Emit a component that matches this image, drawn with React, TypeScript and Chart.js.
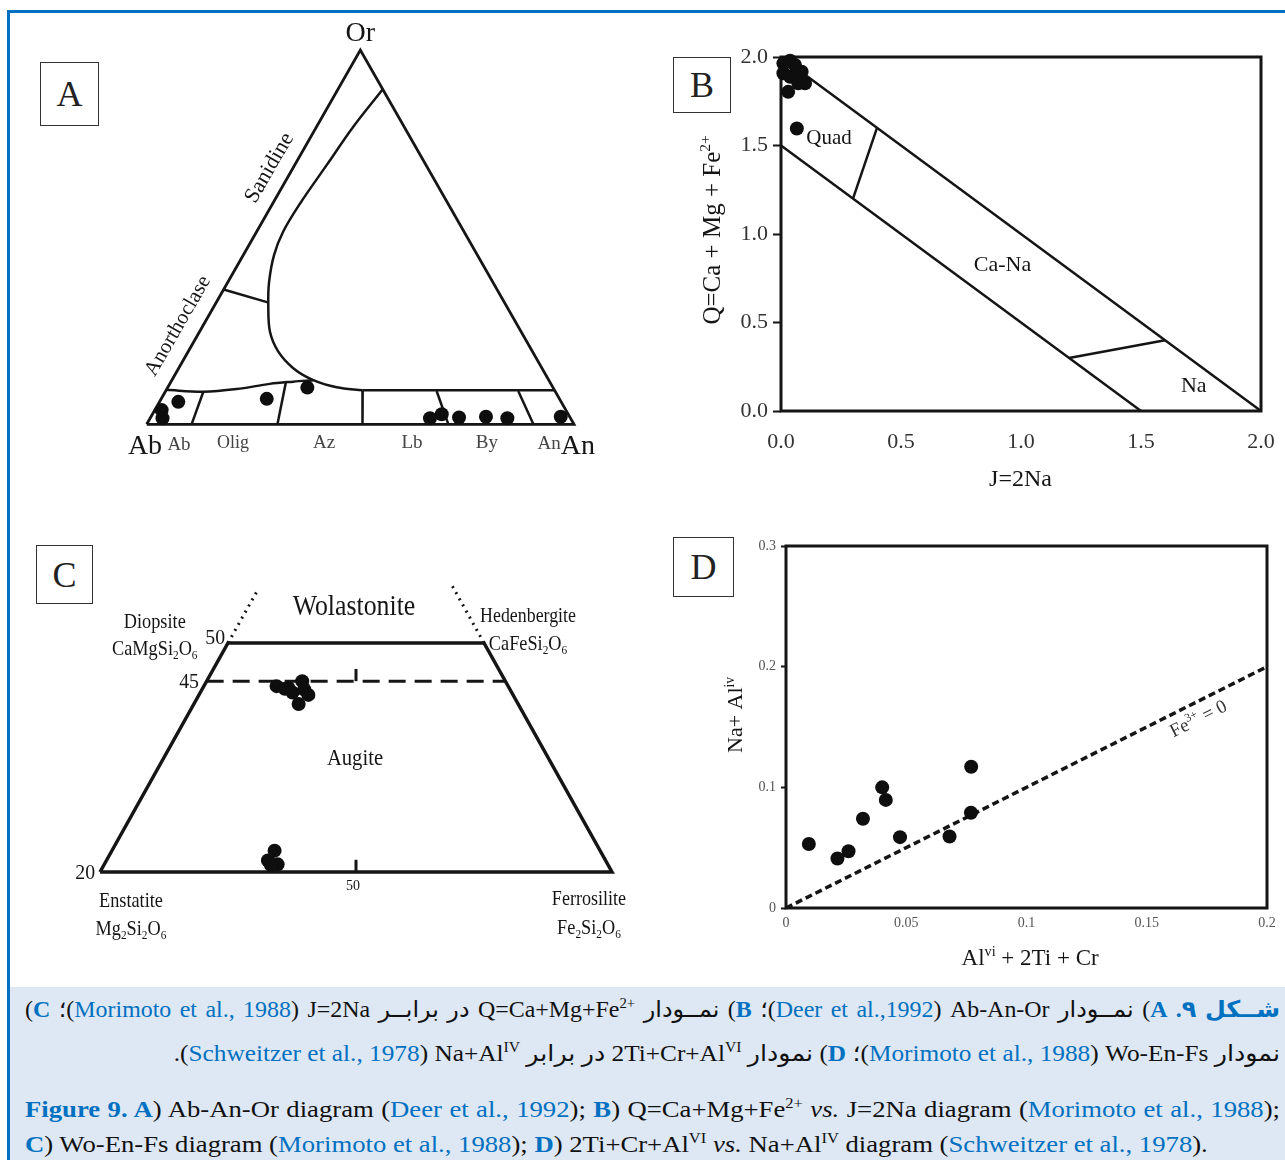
import React, { useEffect, useRef } from "react";
import { Chart, registerables } from "chart.js";

Chart.register(...registerables);

const INK = "#151515";
const SERIF = '"Liberation Serif", "Times New Roman", serif';
const BLUE = "#0070c0";

// ================= Panel A: Ab–An–Or ternary, values as [An %, Or %] =================
const A_SAMPLE_AN = [1.6, 2.9, 4.4, 24.7, 32.7, 65.5, 67.7, 72.2, 78.4, 83.6, 95.9];
const A_SAMPLE_OR = [3.8, 1.6, 6.0, 6.8, 9.8, 1.6, 2.7, 1.8, 2.0, 1.6, 2.0];
const A_OUTLINE = [[0, 0], [100, 0], [0, 100], [0, 0]];
const A_SOLVUS_CURVE = [
  [10.5, 89.5], [8.6, 79.5], [7.5, 69.3], [6.4, 59.0], [6.2, 51.5], [7.2, 45.2], [9.6, 38.1],
  [12.5, 31.9], [16.5, 24.7], [21.1, 19.4], [26.8, 15.0], [33.1, 11.8], [39.5, 9.9], [46.0, 9.1],
];
const A_PLAG_TOP = [[46.0, 9.1], [90.9, 9.1]];
const A_ALKALI_BASE = [[0, 9.2], [8.9, 8.7], [16.3, 9.4], [23.4, 10.8], [28.6, 11.4], [33.1, 11.8]];
const A_ANORTH_SAN = [[0, 36], [12.3, 32.5]];
const A_DIV_AB_OLIG = [[8.9, 8.7], [10.5, 0]];
const A_DIV_OLIG_AZ = [[27.0, 11.1], [30.6, 0]];
const A_DIV_AZ_LB = [[46.0, 9.1], [50.5, 0]];
const A_DIV_LB_BY = [[63.4, 8.9], [70.6, 0]];
const A_DIV_BY_AN = [[82.5, 8.9], [90.5, 0]];

// ================= Panel B: Q vs J =================
const B_J = [0.01, 0.038, 0.058, 0.086, 0.1, 0.038, 0.01, 0.03, 0.072, 0.066];
const B_Q = [1.964, 1.979, 1.955, 1.917, 1.851, 1.888, 1.908, 1.803, 1.851, 1.596];
const B_UPPER = [[0, 2], [2, 0]];
const B_LOWER = [[0, 1.5], [1.5, 0]];
const B_QUAD_CANA = [[0.3, 1.2], [0.4, 1.6]];
const B_CANA_NA = [[1.2, 0.3], [1.6, 0.4]];
const B_TICKS = [0, 0.5, 1, 1.5, 2];

// ================= Panel C: Wo–En–Fs quadrilateral =================
const C_UPPER_X = [34.5, 36.8, 39.5, 39.9, 40.7, 38.8, 37.6, 36.1];
const C_UPPER_Y = [44.35, 44.1, 45.0, 43.9, 43.2, 42.0, 43.5, 44.0];
const C_LOWER_X = [34.1, 32.8, 34.7, 33.4];
const C_LOWER_Y = [22.8, 21.5, 21.0, 20.9];
const C_OUTLINE = [[0, 20], [25, 50], [75, 50], [100, 20], [0, 20]];
const C_DASHED_45 = [[20.83, 45], [79.17, 45]];
const C_DOTTED_LEFT = [[25, 50], [30.6, 56.7]];
const C_DOTTED_RIGHT = [[75, 50], [68.7, 57.6]];
const C_TICK_45 = [[50, 45], [50, 46.6]];
const C_TICK_20 = [[50, 20], [50, 21.6]];

// ================= Panel D: Na+Al(iv) vs Al(vi)+2Ti+Cr =================
const D_X = [0.0095, 0.0214, 0.026, 0.032, 0.04, 0.0415, 0.0474, 0.068, 0.077, 0.0769];
const D_Y = [0.053, 0.041, 0.047, 0.074, 0.1, 0.0896, 0.0587, 0.0593, 0.117, 0.0789];
const D_FE3_ZERO = [[0, 0], [0.2, 0.2]];

// ---------------- helpers ----------------
type Seg = { t: string; sup?: boolean; sub?: boolean };
type Label = {
  segs: Seg[]; x: number; y: number; size: number;
  rot?: number; sx?: number; color?: string; align?: "center" | "left" | "right";
};
const T = (t: string): Seg[] => [{ t }];

const tern = (an: number, or: number) => ({ x: an / 100 + or / 200, y: or / 100 });
const ternLine = (arr: number[][]) => arr.map(([an, or]) => tern(an, or));
const xy = (arr: number[][]) => arr.map(([x, y]) => ({ x, y }));
const zipXY = (xs: number[], ys: number[]) => xs.map((x, i) => ({ x, y: ys[i] }));

const dots = (data: any[], r = 7) => ({
  data, showLine: false, pointRadius: r, pointHoverRadius: r,
  pointBackgroundColor: "#0e0e0e", pointBorderColor: "#0e0e0e", pointBorderWidth: 0, clip: false,
});
const line = (data: any[], extra: any = {}) => ({
  data, showLine: true, pointRadius: 0, pointHoverRadius: 0, borderColor: INK,
  borderWidth: 2.5, fill: false, clip: false, tension: 0, ...extra,
});

function drawLabel(chart: any, l: Label) {
  const ctx = chart.ctx as CanvasRenderingContext2D;
  const px = chart.scales.x.getPixelForValue(l.x);
  const py = chart.scales.y.getPixelForValue(l.y);
  const small = l.size * 0.62;
  const fontOf = (s: Seg) => `${s.sup || s.sub ? small : l.size}px ${SERIF}`;
  let total = 0;
  const widths = l.segs.map((s) => {
    ctx.font = fontOf(s);
    const w = ctx.measureText(s.t).width;
    total += w;
    return w;
  });
  ctx.save();
  ctx.translate(px, py);
  if (l.rot) ctx.rotate((l.rot * Math.PI) / 180);
  ctx.scale(l.sx ?? 1, 1);
  ctx.fillStyle = l.color ?? INK;
  ctx.textBaseline = "alphabetic";
  ctx.textAlign = "left";
  const align = l.align ?? "center";
  let cx = align === "center" ? -total / 2 : align === "right" ? -total : 0;
  const base = l.size * 0.34;
  l.segs.forEach((s, i) => {
    ctx.font = fontOf(s);
    const dy = s.sup ? -l.size * 0.4 : s.sub ? l.size * 0.2 : 0;
    ctx.fillText(s.t, cx, base + dy);
    cx += widths[i];
  });
  ctx.restore();
}

function decorPlugin(labels: Label[], frameWidth = 0) {
  return {
    id: "panelDecor",
    beforeDatasetsDraw(chart: any) {
      if (!frameWidth) return;
      const { ctx, chartArea: a } = chart;
      ctx.save();
      ctx.strokeStyle = INK;
      ctx.lineWidth = frameWidth;
      ctx.strokeRect(a.left, a.top, a.right - a.left, a.bottom - a.top);
      ctx.restore();
    },
    afterDraw(chart: any) {
      labels.forEach((l) => drawLabel(chart, l));
    },
  };
}

const baseOptions = (padding: any, scales: any) => ({
  responsive: false,
  maintainAspectRatio: false,
  animation: false,
  devicePixelRatio: 1,
  events: [],
  layout: { padding },
  plugins: { legend: { display: false }, tooltip: { enabled: false } },
  scales,
});
const hiddenScales = (x0: number, x1: number, y0: number, y1: number) => ({
  x: { type: "linear", display: false, min: x0, max: x1 },
  y: { type: "linear", display: false, min: y0, max: y1 },
});

// ---------------- labels ----------------
const A_LABELS: Label[] = [
  { segs: T("Or"), x: 0.5, y: 1.05, size: 28 },
  { segs: T("Sanidine"), x: 0.284, y: 0.687, size: 22, rot: -60 },
  { segs: T("Anorthoclase"), x: 0.07, y: 0.265, size: 21, rot: -60 },
  { segs: T("Ab"), x: -0.004, y: -0.055, size: 28 },
  { segs: T("Ab"), x: 0.0756, y: -0.052, size: 19, color: "#444" },
  { segs: T("Olig"), x: 0.202, y: -0.047, size: 18, color: "#444" },
  { segs: T("Az"), x: 0.415, y: -0.047, size: 19, color: "#444" },
  { segs: T("Lb"), x: 0.621, y: -0.047, size: 19, color: "#444" },
  { segs: T("By"), x: 0.796, y: -0.047, size: 19, color: "#444" },
  { segs: T("An"), x: 0.942, y: -0.05, size: 19, color: "#444" },
  { segs: T("An"), x: 1.0093, y: -0.055, size: 28 },
];

const B_LABELS: Label[] = [
  { segs: T("Quad"), x: 0.2, y: 1.55, size: 21 },
  { segs: T("Ca-Na"), x: 0.923, y: 0.833, size: 22 },
  { segs: T("Na"), x: 1.72, y: 0.147, size: 22 },
  { segs: T("J=2Na"), x: 0.998, y: -0.379, size: 24 },
  { segs: [{ t: "Q=Ca + Mg + Fe" }, { t: "2+", sup: true }], x: -0.288, y: 1.023, size: 25, rot: -90 },
];

const C_LABELS: Label[] = [
  { segs: T("Wolastonite"), x: 49.6, y: 55.0, size: 30, sx: 0.86 },
  { segs: T("Diopsite"), x: 10.7, y: 52.9, size: 21, sx: 0.87 },
  { segs: [{ t: "CaMgSi" }, { t: "2", sub: true }, { t: "O" }, { t: "6", sub: true }], x: 10.7, y: 49.35, size: 21, sx: 0.87 },
  { segs: T("Hedenbergite"), x: 83.6, y: 53.67, size: 21, sx: 0.85 },
  { segs: [{ t: "CaFeSi" }, { t: "2", sub: true }, { t: "O" }, { t: "6", sub: true }], x: 83.6, y: 50.0, size: 21, sx: 0.87 },
  { segs: T("50"), x: 22.5, y: 50.79, size: 22, sx: 0.9 },
  { segs: T("45"), x: 17.4, y: 45.15, size: 22, sx: 0.9 },
  { segs: T("20"), x: -2.9, y: 20.0, size: 22, sx: 0.9 },
  { segs: T("Augite"), x: 49.8, y: 35.07, size: 24, sx: 0.86 },
  { segs: T("50"), x: 49.4, y: 18.3, size: 14 },
  { segs: T("Enstatite"), x: 6.05, y: 16.33, size: 21, sx: 0.87 },
  { segs: [{ t: "Mg" }, { t: "2", sub: true }, { t: "Si" }, { t: "2", sub: true }, { t: "O" }, { t: "6", sub: true }], x: 6.05, y: 12.66, size: 21, sx: 0.87 },
  { segs: T("Ferrosilite"), x: 95.5, y: 16.6, size: 21, sx: 0.86 },
  { segs: [{ t: "Fe" }, { t: "2", sub: true }, { t: "Si" }, { t: "2", sub: true }, { t: "O" }, { t: "6", sub: true }], x: 95.5, y: 12.8, size: 21, sx: 0.87 },
];

const D_LABELS: Label[] = [
  { segs: [{ t: "Na+ Al" }, { t: "iv", sup: true }], x: -0.0212, y: 0.16, size: 22, rot: -90 },
  { segs: [{ t: "Al" }, { t: "vi", sup: true }, { t: " + 2Ti + Cr" }], x: 0.1015, y: -0.0406, size: 23 },
  { segs: [{ t: "Fe" }, { t: "3+", sup: true }, { t: " = 0" }], x: 0.1713, y: 0.1574, size: 19, rot: -26.7, color: "#333" },
];

// ---------------- chart builders ----------------
function buildA() {
  return {
    type: "scatter",
    data: {
      datasets: [
        dots(A_SAMPLE_AN.map((an, i) => tern(an, A_SAMPLE_OR[i]))),
        line(ternLine(A_OUTLINE), { borderWidth: 2.8 }),
        line(ternLine(A_SOLVUS_CURVE), { tension: 0.35 }),
        line(ternLine(A_PLAG_TOP)),
        line(ternLine(A_ALKALI_BASE), { tension: 0.35 }),
        line(ternLine(A_ANORTH_SAN)),
        line(ternLine(A_DIV_AB_OLIG)),
        line(ternLine(A_DIV_OLIG_AZ)),
        line(ternLine(A_DIV_AZ_LB)),
        line(ternLine(A_DIV_LB_BY)),
        line(ternLine(A_DIV_BY_AN)),
      ],
    },
    options: baseOptions({ left: 26.7, right: 46, top: 35, bottom: 50.7 }, hiddenScales(0, 1, 0, 1)),
    plugins: [decorPlugin(A_LABELS)],
  };
}

const fmt1 = (v: any) => Number(v).toFixed(1);
const fmtD = (v: any) => (Number(v) === 0 ? "0" : String(Math.round(Number(v) * 100) / 100));

function buildB() {
  return {
    type: "scatter",
    data: {
      datasets: [
        dots(zipXY(B_J, B_Q)),
        line(xy(B_UPPER)),
        line(xy(B_LOWER)),
        line(xy(B_QUAD_CANA)),
        line(xy(B_CANA_NA)),
      ],
    },
    options: baseOptions({ left: 0, right: 24, top: 37, bottom: 0 }, {
      x: {
        type: "linear", min: 0, max: 2,
        afterFit: (s: any) => { s.height = 99; },
        afterBuildTicks: (s: any) => { s.ticks = B_TICKS.map((value) => ({ value })); },
        ticks: { callback: fmt1, font: { family: SERIF, size: 22 }, color: "#333", padding: 6, maxRotation: 0, autoSkip: false },
        grid: { drawOnChartArea: false, tickLength: 12, tickColor: "rgba(0,0,0,0)" },
        border: { display: false },
      },
      y: {
        type: "linear", min: 0, max: 2,
        afterFit: (s: any) => { s.width = 121; },
        afterBuildTicks: (s: any) => { s.ticks = B_TICKS.map((value) => ({ value })); },
        ticks: { callback: fmt1, font: { family: SERIF, size: 22 }, color: "#333", padding: 5, autoSkip: false },
        grid: { drawOnChartArea: false, tickLength: 8, tickColor: INK, tickWidth: 2 },
        border: { display: false },
      },
    }),
    plugins: [decorPlugin(B_LABELS, 3)],
  };
}

function buildC() {
  return {
    type: "scatter",
    data: {
      datasets: [
        dots(zipXY(C_UPPER_X, C_UPPER_Y)),
        dots(zipXY(C_LOWER_X, C_LOWER_Y)),
        line(xy(C_OUTLINE), { borderWidth: 3.5, borderJoinStyle: "miter" }),
        line(xy(C_DASHED_45), { borderWidth: 3, borderDash: [17, 9] }),
        line(xy(C_DOTTED_LEFT), { borderWidth: 3, borderDash: [2, 5] }),
        line(xy(C_DOTTED_RIGHT), { borderWidth: 3, borderDash: [2, 5] }),
        line(xy(C_TICK_45), { borderWidth: 3 }),
        line(xy(C_TICK_20), { borderWidth: 3 }),
      ],
    },
    options: baseOptions({ left: 70, right: 38, top: 123, bottom: 88 }, hiddenScales(0, 100, 20, 50)),
    plugins: [decorPlugin(C_LABELS)],
  };
}

function buildD() {
  return {
    type: "scatter",
    data: {
      datasets: [
        dots(zipXY(D_X, D_Y)),
        line(xy(D_FE3_ZERO), { borderWidth: 3.5, borderDash: [7, 4] }),
      ],
    },
    options: baseOptions({ left: 0, right: 18, top: 26, bottom: 0 }, {
      x: {
        type: "linear", min: 0, max: 0.2,
        afterFit: (s: any) => { s.height = 72; },
        ticks: { stepSize: 0.05, callback: fmtD, font: { family: SERIF, size: 14 }, color: "#555", padding: 3, maxRotation: 0, autoSkip: false },
        grid: { drawOnChartArea: false, tickLength: 4, tickColor: "rgba(0,0,0,0)" },
        border: { display: false },
      },
      y: {
        type: "linear", min: 0, max: 0.3,
        afterFit: (s: any) => { s.width = 126; },
        ticks: { stepSize: 0.1, callback: fmtD, font: { family: SERIF, size: 14 }, color: "#555", padding: 5, autoSkip: false },
        grid: { drawOnChartArea: false, tickLength: 5, tickColor: INK, tickWidth: 2 },
        border: { display: false },
      },
    }),
    plugins: [decorPlugin(D_LABELS, 3)],
  };
}

// ---------------- components ----------------
function ChartCanvas({ left, top, width, height, build }: any) {
  const ref = useRef<HTMLCanvasElement>(null);
  useEffect(() => {
    const chart = new Chart(ref.current as HTMLCanvasElement, build() as any);
    return () => chart.destroy();
  }, []);
  return (
    <canvas
      ref={ref}
      width={width}
      height={height}
      style={{ position: "absolute", left, top, width, height }}
    />
  );
}

function PanelTag({ left, top, w, h, letter }: any) {
  return (
    <div
      style={{
        position: "absolute", left, top, width: w, height: h, boxSizing: "border-box",
        border: "1.5px solid #333", background: "#fff", display: "flex",
        alignItems: "center", justifyContent: "center",
        fontFamily: SERIF, fontSize: 36, color: "#222", lineHeight: 1,
      }}
    >
      {letter}
    </div>
  );
}

const capLine = (top: number, scale: number, size: number, extra: any = {}) => ({
  position: "absolute" as const,
  left: 15,
  top,
  width: 1255 / scale,
  transform: `scaleX(${scale})`,
  transformOrigin: "0 0",
  fontFamily: '"Liberation Serif", "DejaVu Sans", serif',
  fontSize: size,
  lineHeight: "28px",
  color: "#111",
  ...extra,
});
const Sup = ({ children }: any) => (
  <sup style={{ fontSize: "0.62em", lineHeight: 0, verticalAlign: "0.6em" }}>{children}</sup>
);
const Bb = ({ children }: any) => <b style={{ color: BLUE }}>{children}</b>;
const Cite = ({ children }: any) => <span style={{ color: BLUE }}>{children}</span>;

function Caption() {
  return (
    <div style={{ position: "absolute", left: 10, top: 987, width: 1275, height: 173, background: "#dde8f4" }}>
      <div dir="rtl" style={capLine(9, 1.04, 23, { textAlign: "justify", textAlignLast: "justify" })}>
        <Bb>شــکل ۹. A</Bb>) نمــودار <bdi>Ab-An-Or</bdi> <bdi>(<Cite>Deer et al.,1992</Cite>)</bdi>؛ <Bb>B</Bb>) نمــودار{" "}
        <bdi>Q=Ca+Mg+Fe<Sup>2+</Sup></bdi> در برابــر <bdi>J=2Na</bdi> <bdi>(<Cite>Morimoto et al., 1988</Cite>)</bdi>؛ <Bb>C</Bb>)
      </div>
      <div dir="rtl" style={capLine(53, 1.1, 23, { textAlign: "right" })}>
        نمودار <bdi>Wo-En-Fs</bdi> <bdi>(<Cite>Morimoto et al., 1988</Cite>)</bdi>؛ <Bb>D</Bb>) نمودار{" "}
        <bdi>2Ti+Cr+Al<Sup>VI</Sup></bdi> در برابر <bdi>Na+Al<Sup>IV</Sup></bdi> <bdi>(<Cite>Schweitzer et al., 1978</Cite>)</bdi>.
      </div>
      <div style={capLine(109, 1.16, 23, { textAlign: "justify", textAlignLast: "justify" })}>
        <Bb>Figure 9. A</Bb>) Ab-An-Or diagram (<Cite>Deer et al., 1992</Cite>); <Bb>B</Bb>) Q=Ca+Mg+Fe<Sup>2+</Sup>{" "}
        <i>vs.</i> J=2Na diagram (<Cite>Morimoto et al., 1988</Cite>);
      </div>
      <div style={capLine(144, 1.16, 23, { textAlign: "left" })}>
        <Bb>C</Bb>) Wo-En-Fs diagram (<Cite>Morimoto et al., 1988</Cite>); <Bb>D</Bb>) 2Ti+Cr+Al<Sup>VI</Sup> <i>vs.</i>{" "}
        Na+Al<Sup>IV</Sup> diagram (<Cite>Schweitzer et al., 1978</Cite>).
      </div>
    </div>
  );
}

export default function App() {
  return (
    <div style={{ position: "absolute", left: 0, top: 0, width: 1285, height: 1160, background: "#fff", overflow: "hidden" }}>
      <ChartCanvas left={120} top={15} width={500} height={460} build={buildA} />
      <ChartCanvas left={660} top={20} width={625} height={490} build={buildB} />
      <ChartCanvas left={30} top={520} width={620} height={440} build={buildC} />
      <ChartCanvas left={660} top={520} width={625} height={460} build={buildD} />
      <PanelTag left={40} top={62} w={59} h={64} letter="A" />
      <PanelTag left={673} top={57} w={58} h={56} letter="B" />
      <PanelTag left={36} top={545} w={57} h={59} letter="C" />
      <PanelTag left={673} top={537} w={61} h={60} letter="D" />
      <Caption />
      <div style={{ position: "absolute", left: 7, top: 10, width: 1278, height: 3, background: BLUE }} />
      <div style={{ position: "absolute", left: 7, top: 10, width: 3, height: 1150, background: BLUE }} />
    </div>
  );
}
